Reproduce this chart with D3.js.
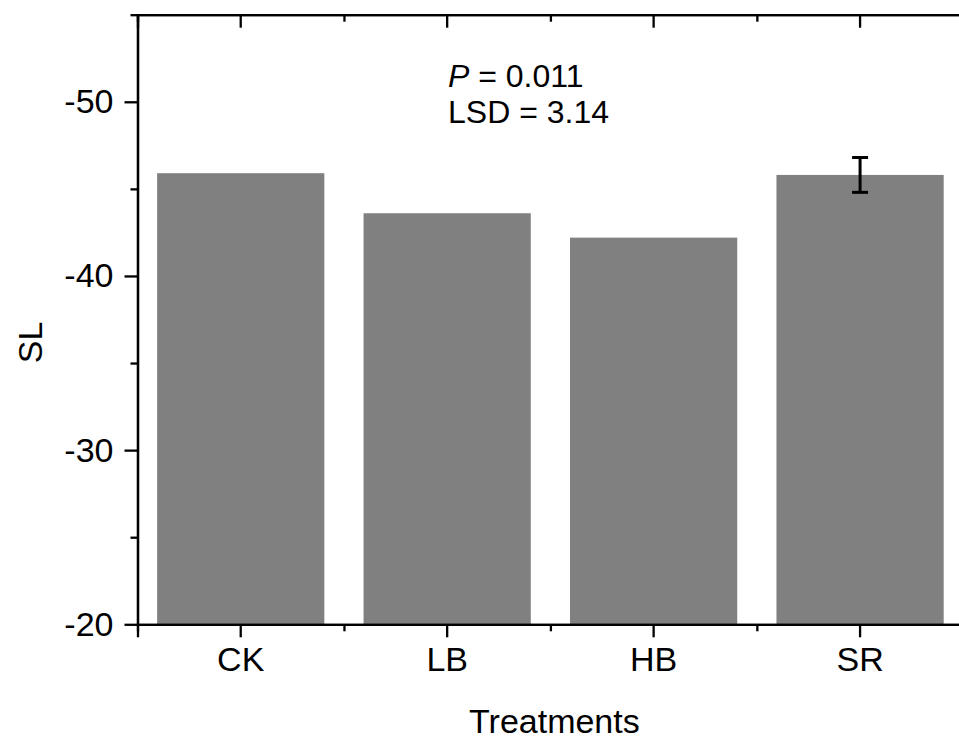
<!DOCTYPE html>
<html>
<head>
<meta charset="utf-8">
<script src="https://cdn.jsdelivr.net/npm/d3@7"></script>
<style>
  body { margin: 0; background: #fff; }
  svg { display: block; font-family: Arial, "Liberation Sans", sans-serif; }
</style>
</head>
<body>
<div id="my_dataviz"></div>
<script>
// data
const categories = ["CK", "LB", "HB", "SR"];
const slValues = [-45.9, -43.6, -42.2, -45.8];
const slErrors = [null, null, null, 1.0];
const yTicks = [-20, -30, -40, -50];
const yMinorTicks = [-25, -35, -45, -55];

const margin = { top: 14.7, right: -4.3, bottom: 115.7, left: 137.5 },
    width = 959 - margin.left - margin.right,
    height = 740 - margin.top - margin.bottom;

const svg = d3.select("#my_dataviz")
    .append("svg")
    .attr("width", 959)
    .attr("height", 740)
    .append("g")
    .attr("transform", "translate(" + margin.left + "," + margin.top + ")");

const x = d3.scaleBand()
    .domain(categories)
    .range([0, width])
    .paddingInner(0.19)
    .paddingOuter(0.095);

// for minor ticks between categories
const xm = d3.scaleLinear().domain([0, categories.length]).range([0, width]);

const y = d3.scaleLinear()
    .domain([-20, -55])
    .range([height, 0]);

// bars
svg.append("g")
    .selectAll("rect")
    .data(categories)
    .enter()
    .append("rect")
    .attr("x", d => x(d))
    .attr("width", x.bandwidth())
    .attr("y", (d, i) => y(slValues[i]))
    .attr("height", (d, i) => y(-20) - y(slValues[i]))
    .style("fill", "#808080");

// error bar
const errs = categories.map((c, i) => ({ c: c, v: slValues[i], e: slErrors[i] })).filter(d => d.e != null);
const eg = svg.append("g").selectAll("g").data(errs).enter().append("g")
    .style("stroke", "#000").style("stroke-width", 3);
eg.append("line")
    .attr("x1", d => x(d.c) + x.bandwidth() / 2).attr("x2", d => x(d.c) + x.bandwidth() / 2)
    .attr("y1", d => y(d.v - d.e)).attr("y2", d => y(d.v + d.e));
eg.append("line")
    .attr("x1", d => x(d.c) + x.bandwidth() / 2 - 8).attr("x2", d => x(d.c) + x.bandwidth() / 2 + 8)
    .attr("y1", d => y(d.v - d.e)).attr("y2", d => y(d.v - d.e));
eg.append("line")
    .attr("x1", d => x(d.c) + x.bandwidth() / 2 - 8).attr("x2", d => x(d.c) + x.bandwidth() / 2 + 8)
    .attr("y1", d => y(d.v + d.e)).attr("y2", d => y(d.v + d.e));

function styleAxis(g) {
    g.selectAll("path,line").style("stroke", "#000").style("stroke-width", 2.3);
    g.selectAll("text").style("font-size", "34px").style("fill", "#000")
        .style("font-family", "Arial, 'Liberation Sans', sans-serif");
}

// bottom axis
svg.append("g")
    .attr("transform", "translate(0," + height + ")")
    .call(d3.axisBottom(x).tickSizeOuter(0).tickSize(13).tickPadding(10))
    .call(styleAxis);
svg.append("g")
    .attr("transform", "translate(0," + height + ")")
    .call(d3.axisBottom(xm).ticks(categories.length).tickFormat("").tickSize(7).tickSizeOuter(0))
    .call(styleAxis);

// top axis (inward ticks)
svg.append("g")
    .call(d3.axisBottom(x).tickSizeOuter(0).tickSize(13).tickFormat(""))
    .call(styleAxis);
svg.append("g")
    .call(d3.axisBottom(xm).ticks(categories.length).tickFormat("").tickSize(7).tickSizeOuter(0))
    .call(styleAxis);

// left axis (plain hyphen for the minus sign)
svg.append("g")
    .call(d3.axisLeft(y).tickValues(yTicks).tickSize(13).tickSizeOuter(0).tickPadding(11)
        .tickFormat(d => String(d)))
    .call(styleAxis);
svg.append("g")
    .call(d3.axisLeft(y).tickValues(yMinorTicks).tickSize(7).tickSizeOuter(0).tickFormat(""))
    .call(styleAxis);

// right axis (inward ticks)
svg.append("g")
    .attr("transform", "translate(" + width + ",0)")
    .call(d3.axisLeft(y).tickValues(yTicks).tickSize(-13).tickSizeOuter(0).tickFormat(""))
    .call(styleAxis);
svg.append("g")
    .attr("transform", "translate(" + width + ",0)")
    .call(d3.axisLeft(y).tickValues(yMinorTicks).tickSize(-7).tickSizeOuter(0).tickFormat(""))
    .call(styleAxis);

// axis titles
svg.append("text")
    .text("Treatments")
    .attr("x", width / 2 + 4)
    .attr("y", height + 109)
    .attr("text-anchor", "middle")
    .style("font-size", "34px");

svg.append("text")
    .text("SL")
    .attr("transform", "translate(-95.5," + (height / 2 + 23) + ")rotate(-90)")
    .attr("text-anchor", "middle")
    .style("font-size", "34px");

// annotation
const note = svg.append("text")
    .attr("x", 448 - margin.left)
    .attr("y", 86.7 - margin.top)
    .style("font-size", "32px");
note.append("tspan").text("P").style("font-style", "italic");
note.append("tspan").text(" = 0.011");
svg.append("text")
    .attr("x", 448 - margin.left)
    .attr("y", 123.3 - margin.top)
    .style("font-size", "32px")
    .text("LSD = 3.14");
</script>
</body>
</html>
